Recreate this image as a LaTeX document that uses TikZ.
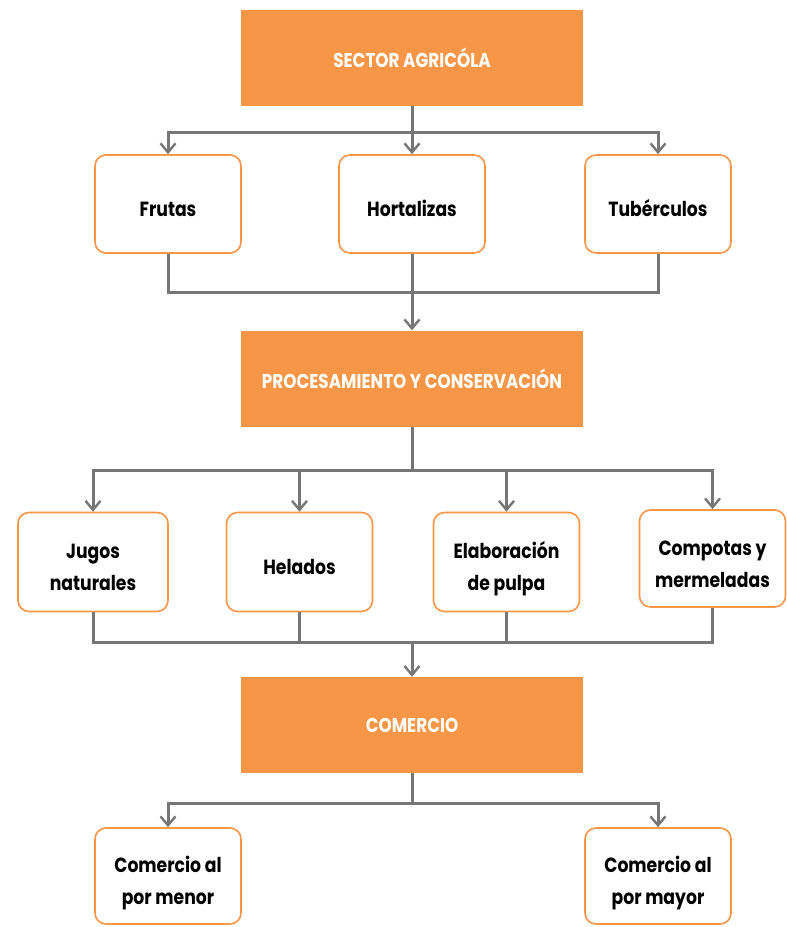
\documentclass[tikz,border=0pt]{standalone}
\usepackage{fontspec}
\setmainfont{Poppins}
\newfontfamily\boxfont[FakeStretch=0.84]{Poppins}
\usetikzlibrary{arrows.meta}
\definecolor{orangeA}{HTML}{F79646}
\definecolor{lineG}{HTML}{767676}
\newcommand\toppad{\rule{0pt}{25pt}}
\tikzset{
  headbox/.style={fill=orangeA, draw=none, minimum width=342pt, minimum height=96pt, text=white, font=\boxfont\fontsize{20}{24}\selectfont\bfseries, inner sep=0pt},
  itembox/.style={draw=orangeA, line width=1.6pt, fill=white, rounded corners=11pt, minimum width=146pt, minimum height=98pt, align=center, font=\boxfont\fontsize{20.5}{32}\selectfont\bfseries, inner sep=0pt, execute at begin node=\toppad},
  twoline/.style={execute at begin node={}, text depth=-2pt},
  conn/.style={draw=lineG, line width=3pt},
  arr/.style={conn, -{Straight Barb[length=9pt,width=15pt,line width=2.4pt]}}
}
\begin{document}
\begin{tikzpicture}[x=1pt,y=-1pt]
\useasboundingbox (0,0) rectangle (787,927);
% level 1
\node[headbox] (top) at (412,57.5) {SECTOR AGRICÓLA};
\node[itembox] (frutas) at (168,204) {Frutas};
\node[itembox] (hort) at (412,204) {Hortalizas};
\node[itembox] (tub) at (658,204) {Tubérculos};
\coordinate (s1) at (412,132);
\draw[conn] (top.south) -- (s1);
\draw[arr] (s1) -| (frutas.north);
\draw[arr] (s1) -- (hort.north);
\draw[arr] (s1) -| (tub.north);
% level 2
\node[headbox] (proc) at (412,378.5) {PROCESAMIENTO Y CONSERVACIÓN};
\coordinate (m1) at (412,292);
\draw[conn] (frutas.south) |- (m1);
\draw[conn] (tub.south) |- (m1);
\draw[arr] (hort.south) -- (proc.north);
\node[itembox, twoline, minimum width=150pt, minimum height=99pt] (jugos) at (93,562) {\toppad Jugos\\naturales};
\node[itembox, minimum height=99pt] (helados) at (299.5,562) {Helados};
\node[itembox, twoline, minimum height=99pt] (elab) at (506.5,562) {\toppad Elaboración\\de pulpa};
\node[itembox, twoline, minimum height=97pt] (comp) at (712.5,558.5) {\toppad Compotas y\\mermeladas};
\coordinate (s2) at (412,470);
\draw[conn] (proc.south) -- (s2);
\draw[arr] (s2) -| (jugos.north);
\draw[arr] (s2) -| (helados.north);
\draw[arr] (s2) -| (elab.north);
\draw[arr] (s2) -| (comp.north);
% level 3
\node[headbox] (com) at (412,725) {COMERCIO};
\coordinate (m2) at (412,642);
\draw[conn] (jugos.south) |- (m2);
\draw[conn] (helados.south) |- (m2);
\draw[conn] (elab.south) |- (m2);
\draw[conn] (comp.south) |- (m2);
\draw[arr] (m2) -- (com.north);
\node[itembox, twoline, minimum height=96pt] (menor) at (168,876) {\toppad Comercio al\\por menor};
\node[itembox, twoline, minimum height=96pt] (mayor) at (658,876) {\toppad Comercio al\\por mayor};
\coordinate (s3) at (412,803);
\draw[conn] (com.south) -- (s3);
\draw[arr] (s3) -| (menor.north);
\draw[arr] (s3) -| (mayor.north);
\end{tikzpicture}
\end{document}
